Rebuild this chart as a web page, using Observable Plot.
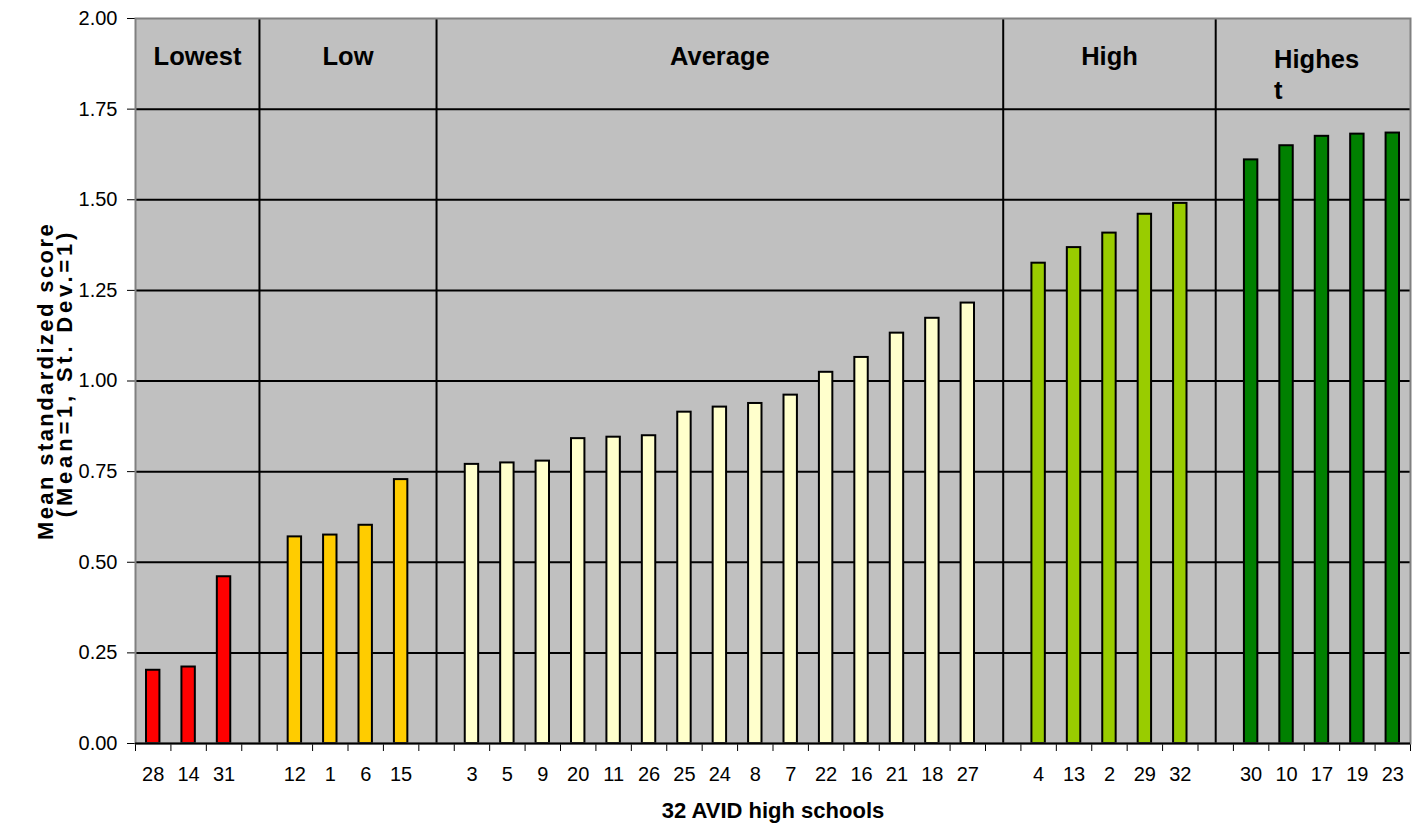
<!DOCTYPE html>
<html>
<head>
<meta charset="utf-8">
<script src="https://cdn.jsdelivr.net/npm/d3@7"></script>
<script src="https://cdn.jsdelivr.net/npm/@observablehq/plot@0.6"></script>
<style>
  body { margin: 0; background: #fff; }
  #chart svg { display: block; }
</style>
</head>
<body>
<div id="chart"></div>
<script>
// ---- data ----
const groupNames = ["Lowest", "Low", "Average", "High", "Highest"];
const groupLabels = ["Lowest", "Low", "Average", "High", "Highes\nt"];
const groupSchools = [
  ["28", "14", "31"],
  ["12", "1", "6", "15"],
  ["3", "5", "9", "20", "11", "26", "25", "24", "8", "7", "22", "16", "21", "18", "27"],
  ["4", "13", "2", "29", "32"],
  ["30", "10", "17", "19", "23"]
];
const groupScores = [
  [0.202, 0.211, 0.460],
  [0.570, 0.575, 0.602, 0.728],
  [0.770, 0.774, 0.779, 0.841, 0.845, 0.849, 0.914, 0.928, 0.938, 0.961, 1.024, 1.065, 1.132, 1.173, 1.215],
  [1.325, 1.368, 1.408, 1.460, 1.490],
  [1.610, 1.649, 1.675, 1.681, 1.684]
];
const yTicks = [0, 0.25, 0.5, 0.75, 1.0, 1.25, 1.5, 1.75, 2.0];
const yTitleLines = ["Mean standardized score", "(Mean=1, St. Dev.=1)"];
const xTitle = "32 AVID high schools";

// ---- styles ----
const groupColors = ["#FF0000", "#FFCC00", "#FFFFCC", "#99CC00", "#008000"];
const FONT = "'Liberation Sans', Arial, Helvetica, sans-serif";

// ---- build table: one empty slot between groups ----
const bars = [];
const sections = [];
const dividers = [];
let slot = 0;
groupSchools.forEach((ids, g) => {
  const start = slot;
  ids.forEach((id, i) => {
    bars.push({ id, score: groupScores[g][i], group: groupNames[g], x1: slot, x2: slot + 1 });
    slot++;
  });
  const end = slot;
  const isLast = g === groupSchools.length - 1;
  const left = g === 0 ? 0 : start - 0.5;
  const right = isLast ? end : end + 0.5;
  sections.push({ label: groupLabels[g], center: (left + right) / 2, last: isLast });
  if (!isLast) { dividers.push(end + 0.5); slot++; }
});
const nSlots = slot;
const xBoundaries = d3.range(0, nSlots + 1);
const gridValues = yTicks.filter(v => v > 0 && v < 2);

const svg = Plot.plot({
  width: 1419,
  height: 825,
  marginLeft: 135,
  marginRight: 9,
  marginTop: 18,
  marginBottom: 82,
  style: { fontFamily: FONT, fontSize: "20px", background: "#ffffff", color: "#000", overflow: "visible" },
  x: { type: "linear", domain: [0, nSlots], ticks: xBoundaries, tickFormat: () => "", tickSize: 8, label: null },
  y: { domain: [0, 2], ticks: yTicks, tickFormat: d => d.toFixed(2), tickSize: 8, tickPadding: 10, label: null },
  color: { domain: groupNames, range: groupColors },
  marks: [
    Plot.frame({ fill: "#C0C0C0" }),
    Plot.ruleY(gridValues, { stroke: "#000", strokeWidth: 2 }),
    Plot.ruleX(dividers, { stroke: "#000", strokeWidth: 2 }),
    Plot.rect(bars, {
      x1: "x1", x2: "x2", y1: 0, y2: "score",
      fill: "group", stroke: "#000", strokeWidth: 2,
      insetLeft: 11, insetRight: 11
    }),
    Plot.frame({ stroke: "#808080", strokeWidth: 2 }),
    Plot.ruleY([0], { stroke: "#000", strokeWidth: 2 }),
    // x tick labels at slot centers
    Plot.text(bars, {
      x: d => (d.x1 + d.x2) / 2, text: "id",
      frameAnchor: "bottom", lineAnchor: "top", dy: 23, fontSize: 20
    }),
    // section labels
    Plot.text(sections.filter(d => !d.last), {
      x: "center", text: "label",
      frameAnchor: "top", lineAnchor: "top", dy: 28,
      fontSize: 25.5, fontWeight: "bold"
    }),
    Plot.text(sections.filter(d => d.last), {
      x: "center", text: "label",
      frameAnchor: "top", lineAnchor: "top", dy: 28, dx: -39,
      textAnchor: "start", lineHeight: 1.2,
      fontSize: 25.5, fontWeight: "bold"
    }),
    // axis titles
    Plot.text([xTitle], {
      frameAnchor: "bottom", lineAnchor: "top", dy: 59,
      fontSize: 22, fontWeight: "bold"
    }),
    Plot.text([yTitleLines[0]], {
      frameAnchor: "left", rotate: -90, lineAnchor: "middle", textAnchor: "middle",
      dx: -89.5, dy: 0, fontSize: 22, fontWeight: "bold"
    }),
    Plot.text([yTitleLines[1]], {
      frameAnchor: "left", rotate: -90, lineAnchor: "middle", textAnchor: "middle",
      dx: -70.5, dy: -8, fontSize: 22, fontWeight: "bold"
    })
  ]
});

document.getElementById("chart").appendChild(svg);

// widen letter spacing of the y-axis title lines to match the reference
d3.select(svg).selectAll("text")
  .filter(function () { return this.textContent === yTitleLines[0]; })
  .attr("letter-spacing", "2.4px");
d3.select(svg).selectAll("text")
  .filter(function () { return this.textContent === yTitleLines[1]; })
  .attr("letter-spacing", "3.8px");
</script>
</body>
</html>
